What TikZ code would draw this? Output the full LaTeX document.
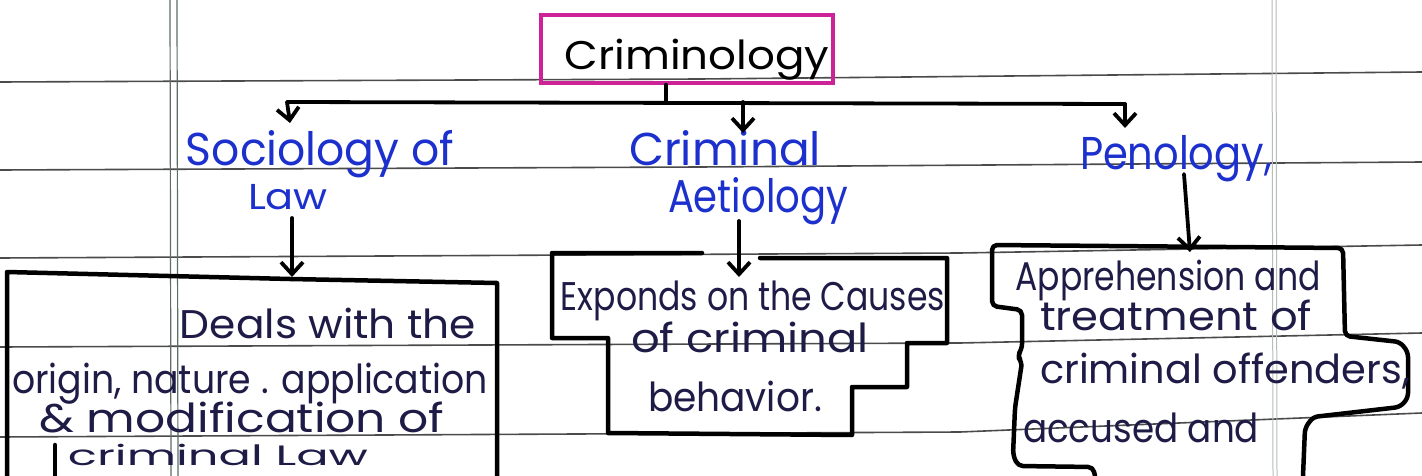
\documentclass[tikz,border=0pt]{standalone}
\usepackage{fontspec}
\setmainfont{Poppins}
\usetikzlibrary{arrows.meta}
\definecolor{inkblue}{RGB}{28,48,205}
\definecolor{inknavy}{RGB}{30,28,70}
\definecolor{magink}{RGB}{205,35,150}
\definecolor{ruleink}{RGB}{75,75,75}
\definecolor{marginink}{RGB}{95,110,100}
\newcommand{\hw}[2]{\resizebox{#1}{\height}{#2}}
\begin{document}
\begin{tikzpicture}[x=1pt,y=-1pt,
  ruleline/.style={draw=ruleink, line width=1.6pt},
  marginline/.style={draw=marginink, line width=1.2pt},
  rmargin/.style={draw=marginink!45, line width=1pt},
  frame/.style={draw=black, line width=4.5pt, line join=round, line cap=round},
  conn/.style={draw=black, line width=3.8pt, line cap=round},
  arr/.style={conn, -{Straight Barb[length=12pt,width=22pt]}},
  magbox/.style={draw=magink, line width=3.5pt, inner sep=0pt},
  title/.style={black, inner sep=0pt, anchor=base, font=\fontsize{40}{44}\selectfont},
  label/.style={inkblue, inner sep=0pt, anchor=base, font=\fontsize{46}{50}\selectfont},
  smalllabel/.style={inkblue, inner sep=0pt, anchor=base, font=\fontsize{36}{40}\selectfont},
  boxtext/.style={inknavy, inner sep=0pt, anchor=base, font=\fontsize{40}{44}\selectfont},
  lasttext/.style={inknavy, inner sep=0pt, anchor=base, font=\fontsize{28}{32}\selectfont}
]
\useasboundingbox (0,0) rectangle (1422,476);
\clip (0,0) rectangle (1422,476);
\fill[white] (0,0) rectangle (1422,476);

% ruled paper
\draw[ruleline] (0,82) -- (700,79) -- (1422,72);
\draw[ruleline] (0,170) -- (700,167) -- (1422,162);
\draw[ruleline] (0,258) -- (960,253) -- (1422,245);
\draw[ruleline] (0,347) -- (960,343) -- (1422,333);
\draw[ruleline] (0,437) -- (960,432) -- (1422,413);
\draw[marginline] (170,0) -- (171,476);
\draw[marginline] (177,0) -- (178,476);
\draw[rmargin] (1272,0) -- (1273,476);
\draw[rmargin] (1276,0) -- (1277,476);

% root
\node[magbox, minimum width=292pt, minimum height=68pt] (crimbox) at (687,49) {};
\node[title] (crim) at (697,70) {\hw{265pt}{Criminology}};

% children labels
\node[label] (soc) at (320,166) {\hw{268pt}{Sociology of}};
\node[smalllabel] (law) at (288,209) {\hw{80pt}{Law}};
\node[label] (crm) at (725,165) {\hw{192pt}{Criminal}};
\node[label] (aet) at (758,212) {\hw{180pt}{Aetiology}};
\node[label] (pen) at (1176,170) {\hw{192pt}{Penology,}};

% tree connectors
\coordinate (j) at (666,102);
\coordinate (hl) at (287,102);
\coordinate (hr) at (1125,104);
\coordinate (jm) at (743,102);
\coordinate (socin) at (290,123);
\coordinate (aetin) at (743,133);
\coordinate (penin) at (1125,128);
\draw[conn] (crimbox.south -| j) -- (j);
\draw[conn] (hl) -- (hr);
\draw[arr] (hl) -- (socin);
\draw[arr] (jm) -- (aetin);
\draw[arr] (hr) -- (penin);

% label -> box arrows
\coordinate (lawout) at (292,218);
\coordinate (lawbox) at (292,277);
\coordinate (aetout) at (739,221);
\coordinate (aetbox) at (739,277);
\coordinate (penout) at (1184,174);
\coordinate (penbox) at (1190,252);
\draw[arr] (lawout) -- (lawbox);
\draw[arr] (aetout) -- (aetbox);
\draw[arr] (penout) -- (penbox);

% left box
\draw[frame] (7,476) -- (7,272) -- (290,279) -- (497,283) -- (497,476);
\draw[frame] (55,445) -- (55,476);
\node[boxtext] (l1) at (328,338) {\hw{296pt}{Deals with the}};
\node[boxtext] (l2) at (250,393) {\hw{476pt}{origin, nature . application}};
\node[boxtext] (l3) at (242,432) {\hw{405pt}{\& modification of}};
\node[lasttext] (l4) at (218,465) {\hw{300pt}{criminal Law}};

% middle box
\draw[frame] (702,253) -- (552,253) -- (552,338) -- (608,338) -- (608,433) -- (852,435) -- (852,387) -- (907,387) -- (907,343) -- (947,343) -- (947,258) -- (760,258);
\node[boxtext] (m1) at (753,310) {\hw{384pt}{Exponds on the Causes}};
\node[boxtext] (m2) at (750,352) {\hw{238pt}{of criminal}};
\node[boxtext] (m3) at (735,411) {\hw{174pt}{behavior.}};

% right box
\draw[frame, rounded corners=5pt] (1095,476) -- (1093,467) -- (1018,466) -- (1013,455) -- (1015,408) -- (1022,362) -- (1017,356) -- (1022,349) -- (1022,310) -- (992,306) -- (992,245) -- (1343,248) -- (1345,336) -- (1400,342) -- (1408,352) -- (1408,398) -- (1400,407) -- (1313,417) -- (1305,428) -- (1303,476);
\node[boxtext] (r1) at (1168,290) {\hw{305pt}{Apprehension and}};
\node[boxtext] (r2) at (1176,330) {\hw{272pt}{treatment of}};
\node[boxtext] (r3) at (1225,383) {\hw{370pt}{criminal offenders,}};
\node[boxtext] (r4) at (1141,442) {\hw{236pt}{accused and}};
\end{tikzpicture}
\end{document}
